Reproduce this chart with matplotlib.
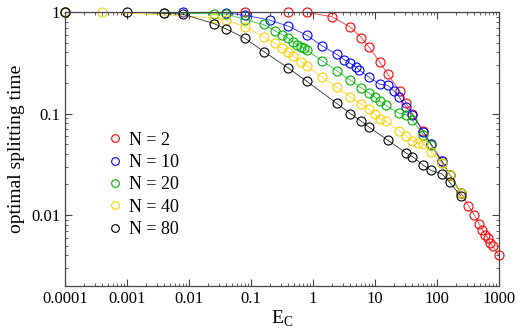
import matplotlib
matplotlib.use("Agg")
import matplotlib.pyplot as plt
from matplotlib.ticker import LogLocator, FixedLocator, FixedFormatter, NullFormatter

plt.rcParams['font.family'] = ['Liberation Serif', 'DejaVu Serif']
plt.rcParams['mathtext.fontset'] = 'custom'
plt.rcParams['mathtext.rm'] = 'Liberation Serif'

# data
ec_n2 = [0.0001, 0.08, 0.4, 0.8, 2, 4, 6, 8, 12, 16, 25, 32, 40, 60, 80, 120, 160,
         240, 320, 400, 480, 540, 600, 660, 720, 800, 1000]
t_n2 = [1, 1, 1, 0.99, 0.9, 0.71, 0.56, 0.45, 0.32, 0.245, 0.166, 0.126, 0.1, 0.067,
        0.05, 0.034, 0.025, 0.0166, 0.0124, 0.01, 0.0082, 0.0071, 0.0064, 0.0059,
        0.0053, 0.0049, 0.004]

ec_n10 = [0.0001, 0.008, 0.04, 0.08, 0.2, 0.4, 0.8, 1.4, 2.4, 3.2, 4, 5, 5.6, 8, 12,
          16, 20, 24, 32, 40, 60, 80, 120, 160, 240]
t_n10 = [1, 1, 0.98, 0.93, 0.83, 0.725, 0.587, 0.464, 0.384, 0.338, 0.311, 0.286,
         0.267, 0.228, 0.194, 0.19, 0.168, 0.147, 0.116, 0.097, 0.066, 0.05, 0.034,
         0.025, 0.0166]

ec_n20 = [0.0001, 0.004, 0.025, 0.04, 0.08, 0.16, 0.24, 0.32, 0.4, 0.48, 0.56, 0.64,
          0.72, 0.8, 1.4, 2.4, 4, 6, 8, 10, 12, 15, 24, 32, 40, 60, 80, 120, 160, 240]
t_n20 = [1, 0.98, 0.96, 0.955, 0.84, 0.753, 0.657, 0.596, 0.552, 0.509, 0.475, 0.457,
         0.437, 0.42, 0.33, 0.265, 0.213, 0.179, 0.159, 0.145, 0.132, 0.12, 0.101,
         0.097, 0.086, 0.062, 0.049, 0.0325, 0.025, 0.0166]

ec_n40 = [0.0001, 0.0004, 0.025, 0.04, 0.08, 0.16, 0.24, 0.32, 0.4, 0.48, 0.64, 0.8,
          1.4, 2.4, 4, 6, 8, 10, 12, 15, 24, 32, 40, 50, 60, 80, 120, 160, 240]
t_n40 = [1, 1, 0.88, 0.83, 0.715, 0.57, 0.493, 0.437, 0.402, 0.37, 0.325, 0.295,
         0.228, 0.182, 0.146, 0.123, 0.11, 0.098, 0.089, 0.084, 0.068, 0.06, 0.054,
         0.051, 0.05, 0.042, 0.0325, 0.025, 0.0166]

ec_n80 = [0.0001, 0.001, 0.004, 0.008, 0.025, 0.04, 0.08, 0.16, 0.4, 0.8, 2.4, 4, 6,
          8, 16, 32, 40, 60, 80, 120, 160, 240]
t_n80 = [1, 1, 0.97, 0.95, 0.77, 0.68, 0.55, 0.408, 0.28, 0.207, 0.126, 0.1, 0.084,
         0.0736, 0.0546, 0.0407, 0.0377, 0.031, 0.0275, 0.0255, 0.021, 0.0155]

labels = ['N = 2', 'N = 10', 'N = 20', 'N = 40', 'N = 80']
colors = ['#ff0000', '#0000ff', '#00b400', '#ffd000', '#000000']
xs = [ec_n2, ec_n10, ec_n20, ec_n40, ec_n80]
ys = [t_n2, t_n10, t_n20, t_n40, t_n80]

xticks = [0.0001, 0.001, 0.01, 0.1, 1, 10, 100, 1000]
xticklabels = ['0.0001', '0.001', '0.01', '0.1', '1', '10', '100', '1000']
yticks = [0.01, 0.1, 1]
yticklabels = ['0.01', '0.1', '1']

fig = plt.figure(figsize=(5.21, 3.32), dpi=100)
ax = fig.add_axes([0.1248, 0.1386, 0.833, 0.8253])

for x, y, c, lab in zip(xs, ys, colors, labels):
    ax.plot(x, y, '-', color=c, lw=0.6, alpha=0.8)
    ax.plot(x, y, 'o', mfc='none', mec=c, ms=6.5, mew=0.8, label=lab, clip_on=False)

ax.set_xscale('log')
ax.set_yscale('log')
ax.set_xlim(0.0001, 1000)
ax.set_ylim(0.002, 1)

ax.xaxis.set_major_locator(FixedLocator(xticks))
ax.xaxis.set_major_formatter(FixedFormatter(xticklabels))
ax.yaxis.set_major_locator(FixedLocator(yticks))
ax.yaxis.set_major_formatter(FixedFormatter(yticklabels))
ax.xaxis.set_minor_locator(LogLocator(base=10, subs=range(2, 10), numticks=20))
ax.yaxis.set_minor_locator(LogLocator(base=10, subs=range(2, 10), numticks=20))
ax.xaxis.set_minor_formatter(NullFormatter())
ax.yaxis.set_minor_formatter(NullFormatter())

ax.tick_params(which='both', direction='in', top=True, right=True, labelsize=12,
               color='#444444')
ax.tick_params(which='major', length=5, width=0.8)
ax.tick_params(which='minor', length=2.5, width=0.6)
for s in ax.spines.values():
    s.set_color('#444444')
    s.set_linewidth(0.9)

ax.set_xlabel(r'E$_\mathrm{C}$', fontsize=14, labelpad=1)
ax.set_ylabel('optimal splitting time', fontsize=14, labelpad=4)

ax.legend(loc='upper left', bbox_to_anchor=(0.085, 0.59), frameon=False,
          fontsize=13, handlelength=0.6, handletextpad=0.5, labelspacing=0.3,
          borderaxespad=0, markerscale=0.85)

fig.savefig('out.png', dpi=100)
